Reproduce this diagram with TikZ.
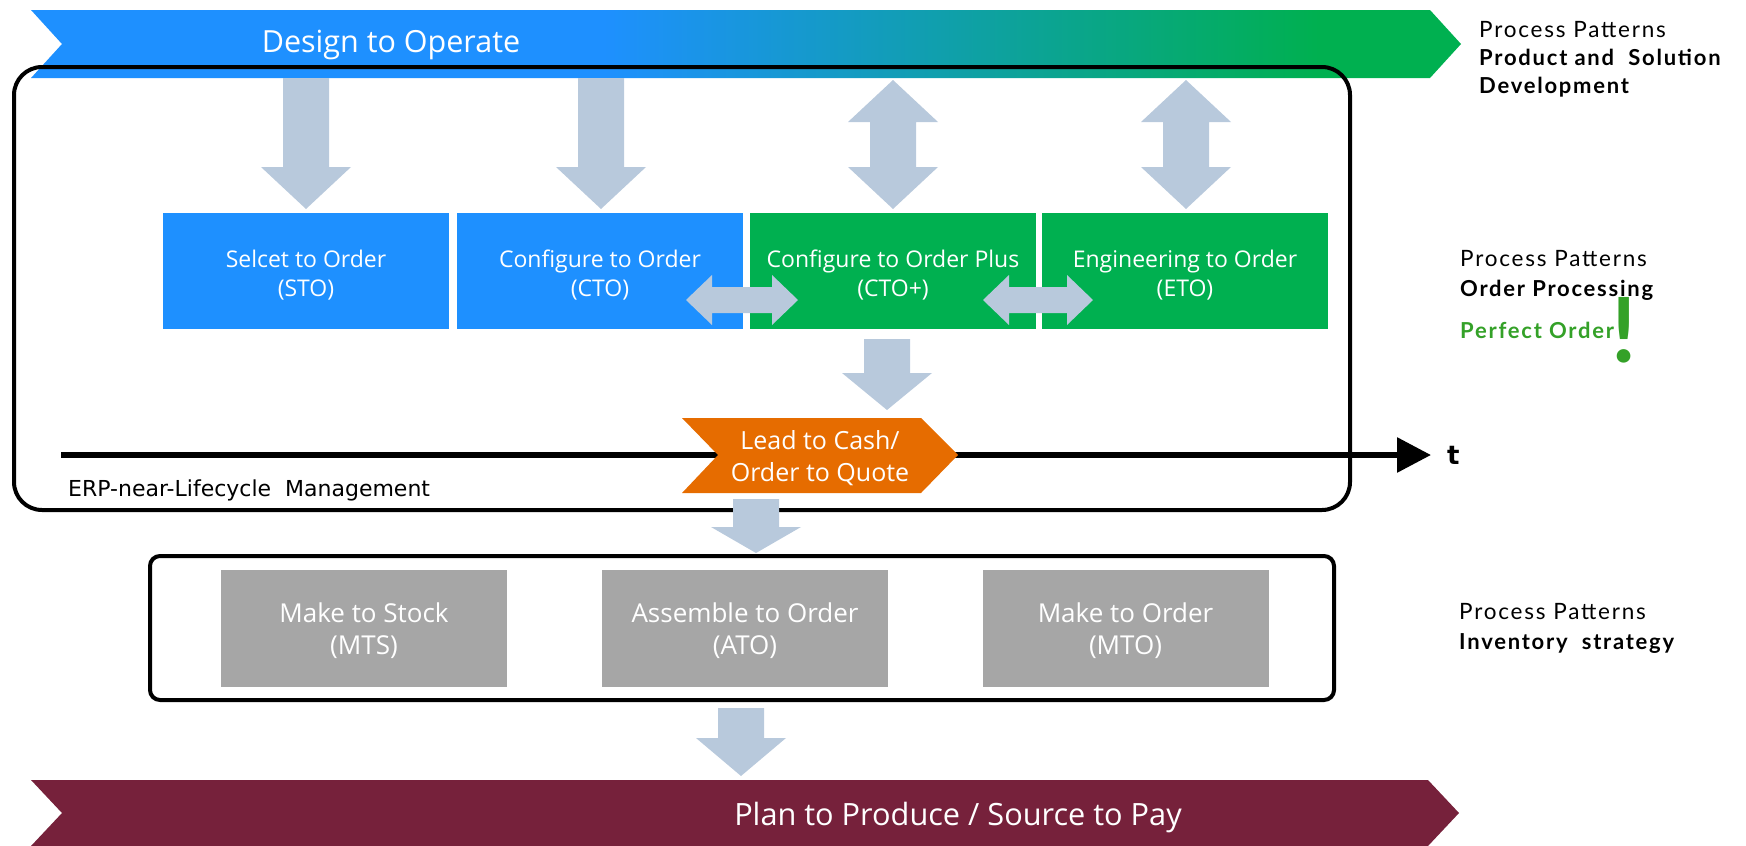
\documentclass[tikz,border=0pt]{standalone}
\usepackage{fontspec}
\setmainfont{Open Sans}
\newfontfamily\labfont[LetterSpace=8]{Lato}
\newfontfamily\bangfont{Lato}
\newfontfamily\erpfont{DejaVu Sans}
\usetikzlibrary{arrows.meta,calc}
\definecolor{dblue}{RGB}{30,144,255}
\definecolor{dgreen}{RGB}{0,176,80}
\definecolor{arrcol}{RGB}{184,201,220}
\definecolor{lorange}{RGB}{230,108,0}
\definecolor{dmaroon}{RGB}{118,33,59}
\definecolor{gbox}{RGB}{166,166,166}
\definecolor{pgreen}{RGB}{52,161,40}
\pgfdeclarehorizontalshading{bannershade}{100bp}{color(0bp)=(dblue); color(45bp)=(dblue); color(70bp)=(dgreen); color(100bp)=(dgreen)}
\begin{document}
\begin{tikzpicture}[x=1pt,y=-1pt,
  boxtxt/.style={text=white,font=\fontsize{23}{29}\selectfont,align=center,inner sep=0pt},
  graytxt/.style={text=white,font=\fontsize{26}{32}\selectfont,align=center,inner sep=0pt},
  bluebox/.style={fill=dblue,minimum width=286pt,minimum height=116pt,inner sep=0pt},
  greenbox/.style={fill=dgreen,minimum width=286pt,minimum height=116pt,inner sep=0pt},
  graybox/.style={fill=gbox,minimum width=286pt,minimum height=117pt,inner sep=0pt},
  frame/.style={draw=black,line width=4pt,inner sep=0pt},
  lab/.style={anchor=base west,inner sep=0pt,font=\labfont\fontsize{22.5}{26}\selectfont},
  labb/.style={anchor=base west,inner sep=0pt,font=\labfont\bfseries\fontsize{22}{26}\selectfont},
  pics/darr/.style n args={2}{code={\fill[arrcol] (-23,0) -- (23,0) -- (23,#1) -- (45,#1) -- (0,#2) -- (-45,#1) -- (-23,#1) -- cycle;}},
  pics/vdarr/.style n args={2}{code={\fill[arrcol] (0,0) -- (45,#2) -- (23,#2) -- (23,#1-#2) -- (45,#1-#2) -- (0,#1) -- (-45,#1-#2) -- (-23,#1-#2) -- (-23,#2) -- (-45,#2) -- cycle;}},
  pics/hdarr/.style n args={2}{code={\fill[arrcol] (0,0) -- (#2,-25) -- (#2,-13) -- (#1-#2,-13) -- (#1-#2,-25) -- (#1,0) -- (#1-#2,25) -- (#1-#2,13) -- (#2,13) -- (#2,25) -- cycle;}}
]
\useasboundingbox (0,0) rectangle (1746,846);

% top banner
\shade[shading=bannershade] (31,10) -- (1430,10) -- (1461,44) -- (1430,78) -- (31,78) -- (62,44) -- cycle;
\node[text=white,anchor=base,inner sep=0pt,font=\fontsize{30.5}{36}\selectfont] (d2o) at (391,52) {Design to Operate};

% bottom banner
\fill[dmaroon] (31,780) -- (1428,780) -- (1459,813) -- (1428,846) -- (31,846) -- (62,813) -- cycle;
\node[text=white,anchor=base,inner sep=0pt,font=\fontsize{30.7}{36}\selectfont] (p2p) at (958,825) {Plan to Produce / Source to Pay};

% frames
\node[frame,rounded corners=28pt,minimum width=1336pt,minimum height=443pt] (erp) at (682,288.5) {};
\node[frame,rounded corners=10pt,minimum width=1184pt,minimum height=144pt] (inv) at (742,628) {};
\node[anchor=base west,inner sep=0pt,font=\erpfont\fontsize{22}{25}\selectfont] (erpl) at (68,496) {ERP-near-Lifecycle\ \ Management};

% order boxes
\node[bluebox] (sto) at (306,271) {};
\node[bluebox] (cto) at (600,271) {};
\node[greenbox] (ctop) at (893,271) {};
\node[greenbox] (eto) at (1185,271) {};
\node[boxtxt] (stot) at ($(sto.center)+(0,4)$) {Selcet to Order\\(STO)};
\node[boxtxt] (ctot) at ($(cto.center)+(0,4)$) {Configure to Order\\(CTO)};
\node[boxtxt] (ctopt) at ($(ctop.center)+(0,4)$) {Configure to Order Plus\\(CTO+)};
\node[boxtxt] (etot) at ($(eto.center)+(0,4)$) {Engineering\ to Order\\(ETO)};

% arrows from banner
\pic at (306,78) {darr={89}{131}};
\pic at (601,78) {darr={89}{131}};
\pic at (893,80) {vdarr={129}{42}};
\pic at (1186,80) {vdarr={129}{42}};
% horizontal double arrows
\pic at (686,300) {hdarr={112}{26}};
\pic at (983,300) {hdarr={110}{26}};
% down arrow to lead to cash
\pic at (887,339) {darr={34}{71}};

% timeline
\coordinate (t0) at (61,455);
\coordinate (t1) at (1431,455);
\draw[line width=6pt,-{Triangle[length=34pt,width=34pt]}] (t0) -- (t1);
\node[anchor=west,inner sep=0pt,font=\erpfont\bfseries\fontsize{26}{30}\selectfont] (tl) at (1447,455) {t};

% lead to cash
\fill[lorange] (682,418) -- (921,418) -- (958,455) -- (921,493) -- (682,493) -- (718,455) -- cycle;
\node[text=white,align=center,inner sep=0pt,font=\fontsize{25}{32}\selectfont] (l2c) at (820,458) {Lead to Cash/\\Order to Quote};

\pic at (756,499) {darr={28}{54}};

% inventory boxes
\node[graybox] (mts) at (364,628.5) {};
\node[graybox] (ato) at (745,628.5) {};
\node[graybox] (mto) at (1125.5,628.5) {};
\node[graytxt] (mtst) at ($(mts.center)+(0,2)$) {Make to Stock\\(MTS)};
\node[graytxt] (atot) at ($(ato.center)+(0,2)$) {Assemble to Order\\(ATO)};
\node[graytxt] (mtot) at ($(mto.center)+(0,2)$) {Make to Order\\(MTO)};

\pic at (741,708) {darr={30}{68}};

% right labels
\node[lab] (pa1) at (1479,37) {Process Patterns};
\node[labb] (pa2) at (1479,65) {Product and\ \ Solution};
\node[labb] (pa3) at (1479,93) {Development};
\node[lab] (pb1) at (1460,266) {Process Patterns};
\node[labb] (pb2) at (1460,296) {Order Processing};
\node[labb,text=pgreen] (pb3) at (1460,338) {Perfect Order};
\node[anchor=base,inner sep=0pt,text=pgreen,font=\bangfont\bfseries\fontsize{90}{90}\selectfont] (bang) at (1624,362) {!};
\node[lab] (pc1) at (1459,619) {Process Patterns};
\node[labb] (pc2) at (1459,649) {Inventory\ \ strategy};
\end{tikzpicture}
\end{document}
